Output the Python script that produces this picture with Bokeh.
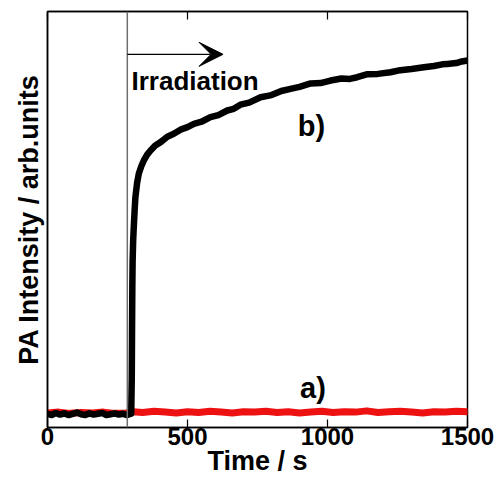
from bokeh.plotting import figure
from bokeh.models import Range1d, FixedTicker, LinearAxis, Span, Arrow, VeeHead, Label
from bokeh.embed import file_html
from bokeh.resources import INLINE

# ---- data ----
x_ticks = [0, 500, 1000, 1500]

# curve b) (black): irradiated sample
b_time = [0, 15, 30, 45, 60, 75, 90, 105, 120, 135, 150, 165, 180, 195, 210, 225, 240, 255, 270, 285, 299,
          301, 302, 303, 304, 306, 308, 311, 314, 320, 326, 335, 344, 356, 368, 385, 404, 428, 451, 475,
          500, 523, 550, 582, 610, 642, 665, 689, 720, 761, 800, 835, 868, 900, 940, 975, 1011, 1050,
          1080, 1106, 1140, 1180, 1225, 1260, 1300, 1344, 1380, 1410, 1428, 1460, 1480, 1500]
b_value = [3.3, 3.0, 3.5, 3.1, 3.4, 3.0, 3.3, 3.6, 3.2, 3.0, 3.4, 3.1, 3.3, 3.5, 3.0, 3.2, 3.4, 3.1, 3.3, 3.0, 3.3,
           12.0, 24.0, 34.0, 40.0, 45.0, 48.0, 52.0, 55.4, 58.8, 61.0, 62.8, 64.2, 65.6, 66.6, 67.8, 68.6, 69.9, 70.6, 71.6,
           72.2, 73.0, 73.5, 74.6, 75.1, 76.2, 76.6, 77.6, 78.1, 79.4, 79.9, 80.9, 81.4, 81.9, 82.7, 82.8, 83.4, 83.9,
           83.8, 84.2, 84.9, 85.0, 85.4, 85.9, 86.2, 86.6, 86.9, 87.3, 87.4, 87.6, 88.0, 88.2]

# curve a) (red): reference sample
a_time = [0, 40, 80, 120, 160, 200, 240, 280, 305, 340, 380, 420, 460, 500, 540, 580, 620, 660, 700, 740,
          780, 820, 860, 900, 940, 980, 1020, 1060, 1100, 1140, 1180, 1220, 1260, 1300, 1340, 1380, 1420, 1460, 1500]
a_value = [3.5, 3.7, 3.4, 3.6, 3.5, 3.7, 3.4, 3.5, 3.8, 3.6, 3.9, 3.7, 3.5, 3.8, 3.6, 3.9, 3.7, 3.5, 3.8, 3.7,
           3.9, 3.6, 3.8, 3.5, 3.7, 3.9, 3.6, 3.8, 3.7, 4.0, 3.6, 3.8, 3.9, 3.7, 3.5, 3.8, 3.7, 3.9, 3.8]

irradiation_start = 285
arrow_end = 627
arrow_level = 89.7

FONT = "Liberation Sans"

p = figure(width=499, height=482, output_backend="svg", toolbar_location=None,
           x_range=Range1d(0, 1500), y_range=Range1d(0, 100),
           min_border_left=47, min_border_right=32, min_border_top=11, min_border_bottom=55)
p.grid.visible = False
p.outline_line_color = "black"
p.outline_line_width = 1.5
p.background_fill_color = "white"
p.border_fill_color = "white"

# x axis (bottom)
xa = p.xaxis[0]
xa.ticker = FixedTicker(ticks=x_ticks)
xa.major_tick_in = 8
xa.major_tick_out = 0
xa.minor_tick_line_color = None
xa.axis_line_color = "black"
xa.axis_line_width = 1.5
xa.major_tick_line_width = 1.2
xa.major_label_standoff = 0
xa.major_label_text_font = FONT
xa.major_label_text_font_style = "bold"
xa.major_label_text_font_size = "24px"
xa.major_label_text_color = "black"
xa.axis_label = "Time / s"
xa.axis_label_text_font = FONT
xa.axis_label_text_font_style = "bold"
xa.axis_label_text_font_size = "27px"
xa.axis_label_text_color = "black"
xa.axis_label_standoff = -2

# y axis (left) - no ticks
ya = p.yaxis[0]
ya.ticker = FixedTicker(ticks=[])
ya.minor_tick_line_color = None
ya.major_tick_line_color = None
ya.axis_line_color = "black"
ya.axis_line_width = 1.5
ya.axis_label = "PA Intensity / arb.units"
ya.axis_label_text_font = FONT
ya.axis_label_text_font_style = "bold"
ya.axis_label_text_font_size = "27px"
ya.axis_label_text_color = "black"
ya.axis_label_standoff = 4

# top axis with inward ticks, labels not drawn
top = LinearAxis(ticker=FixedTicker(ticks=x_ticks), major_tick_in=8, major_tick_out=0,
                 minor_tick_line_color=None, major_label_text_font_size="1px",
                 major_label_text_color=None,
                 major_label_standoff=0, axis_line_color="black", axis_line_width=1.5,
                 major_tick_line_width=1.2)
p.add_layout(top, "above")

# irradiation marker
p.add_layout(Span(location=irradiation_start, dimension="height",
                  line_color="#6e6e6e", line_width=1.5))
p.add_layout(Arrow(end=VeeHead(size=24, fill_color="black", line_color="black"),
                   x_start=irradiation_start, y_start=arrow_level,
                   x_end=arrow_end, y_end=arrow_level,
                   line_color="black", line_width=1.2))

# curves
p.line(a_time, a_value, line_color="#ee1111", line_width=7, line_join="round", line_cap="round")
p.line(b_time, b_value, line_color="black", line_width=6.5, line_join="round", line_cap="round")

# texts
p.add_layout(Label(x=300, y=83.4, text="Irradiation", text_font=FONT, text_font_style="bold",
                   text_font_size="26px", text_color="black", text_baseline="alphabetic"))
p.add_layout(Label(x=894, y=72.4, text="b)", text_font=FONT, text_font_style="bold",
                   text_font_size="29px", text_color="black", text_baseline="alphabetic"))
p.add_layout(Label(x=902, y=9.4, text="a)", text_font=FONT, text_font_style="bold",
                   text_font_size="29px", text_color="black", text_baseline="alphabetic"))

open("out.html", "w").write(file_html(p, INLINE))
